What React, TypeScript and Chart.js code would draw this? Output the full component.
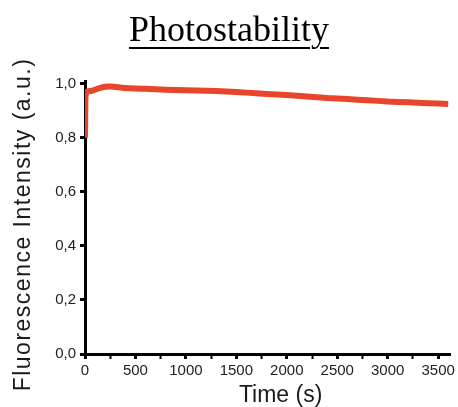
import React, { useEffect, useRef } from "react";
import { Chart, registerables } from "chart.js";

Chart.register(...registerables);

const TITLE = "Photostability";
const X_TITLE = "Time (s)";
const Y_TITLE = "Fluorescence Intensity (a.u.)";

const timeSeconds = [0, 5, 15, 30, 60, 100, 150, 200, 250, 300, 400, 500, 600, 800, 1000, 1200, 1400, 1600, 1800, 2000, 2200, 2400, 2600, 2800, 3000, 3200, 3400, 3600];
const intensity = [0.8, 0.95, 0.968, 0.972, 0.973, 0.978, 0.985, 0.989, 0.99, 0.988, 0.984, 0.982, 0.981, 0.978, 0.976, 0.974, 0.971, 0.967, 0.962, 0.958, 0.953, 0.947, 0.943, 0.939, 0.934, 0.931, 0.928, 0.925];

const X_MIN = 0;
const X_MAX = 3620;
const Y_MIN = 0;
const Y_MAX = 1.01;

const LINE_COLOR = "#E8452C";
const FONT = "'Liberation Sans', Arial, sans-serif";

const axisTitlesPlugin = {
  id: "axisTitles",
  afterDraw(chart: any) {
    const ctx = chart.ctx;
    const area = chart.chartArea;
    // y title
    ctx.save();
    ctx.translate(24, (area.top + area.bottom) / 2 + 7);
    ctx.rotate(-Math.PI / 2);
    ctx.font = "23px " + FONT;
    try { (ctx as any).letterSpacing = "1.5px"; } catch (e) {}
    ctx.fillStyle = "#1a1a1a";
    ctx.textAlign = "center";
    ctx.textBaseline = "middle";
    ctx.fillText(Y_TITLE, 0, 0);
    ctx.restore();
    // x title
    ctx.save();
    ctx.font = "23px " + FONT;
    ctx.fillStyle = "#1a1a1a";
    ctx.textAlign = "center";
    ctx.textBaseline = "alphabetic";
    ctx.fillText(X_TITLE, (area.left + area.right) / 2 + 13, 402);
    ctx.restore();
  },
};

export default function App() {
  const ref = useRef<HTMLCanvasElement | null>(null);

  useEffect(() => {
    if (!ref.current) return;
    const chart = new Chart(ref.current, {
      type: "line",
      data: {
        datasets: [
          {
            data: timeSeconds.map((t, i) => ({ x: t, y: intensity[i] })),
            borderColor: LINE_COLOR,
            backgroundColor: LINE_COLOR,
            borderWidth: 6,
            pointRadius: 0,
            tension: 0.2,
            fill: false,
          },
        ],
      },
      options: {
        animation: false,
        responsive: false,
        layout: { padding: { top: 81, right: 5, left: 0, bottom: 0 } },
        plugins: { legend: { display: false }, title: { display: false }, tooltip: { enabled: false } },
        scales: {
          x: {
            type: "linear",
            min: X_MIN,
            max: X_MAX,
            afterFit: (s: any) => { s.height = 53; },
            border: { display: true, color: "#000", width: 3 },
            grid: {
              drawOnChartArea: false,
              drawTicks: true,
              tickLength: 5,
              tickColor: "#000",
              tickWidth: (c: any) => (c.tick && c.tick.value % 500 === 0 ? 3 : 2),
            },
            ticks: {
              stepSize: 250,
              includeBounds: false,
              autoSkip: false,
              maxRotation: 0,
              padding: 3,
              color: "#222",
              font: { family: FONT, size: 15 },
              callback: (v: any) => (Number(v) % 500 === 0 ? String(v) : ""),
            },
            title: { display: false },
          },
          y: {
            type: "linear",
            min: Y_MIN,
            max: Y_MAX,
            afterFit: (s: any) => { s.width = 85; },
            border: { display: true, color: "#000", width: 3 },
            grid: {
              drawOnChartArea: false,
              drawTicks: true,
              tickLength: 5,
              tickColor: "#000",
              tickWidth: 3,
            },
            ticks: {
              stepSize: 0.2,
              includeBounds: false,
              padding: 4,
              color: "#222",
              font: { family: FONT, size: 15 },
              callback: (v: any) => Number(v).toFixed(1).replace(".", ","),
            },
            title: { display: false },
          },
        },
      },
      plugins: [axisTitlesPlugin],
    });
    return () => chart.destroy();
  }, []);

  return (
    <div style={{ position: "fixed", left: 0, top: 0, width: 458, height: 407, background: "#fff" }}>
      <canvas ref={ref} width={458} height={407} style={{ position: "absolute", left: 0, top: 0, width: 458, height: 407 }} />
      <div
        style={{
          position: "absolute",
          left: 0,
          top: 11,
          width: 458,
          textAlign: "center",
          fontFamily: "'Liberation Serif', 'Times New Roman', serif",
          fontSize: 36,
          lineHeight: "36px",
          color: "#000",
          textDecoration: "underline",
          textDecorationThickness: "2px",
          textUnderlineOffset: "6px",
        }}
      >
        {TITLE}
      </div>
    </div>
  );
}
